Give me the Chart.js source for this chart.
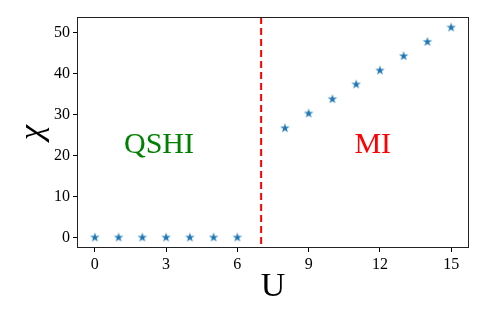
<!DOCTYPE html>
<html>
<head>
<meta charset="utf-8">
<script src="https://cdn.jsdelivr.net/npm/chart.js@4.4.0/dist/chart.umd.min.js"></script>
<style>
  html, body { margin: 0; padding: 0; background: #fff; }
  #wrap { width: 486px; height: 324px; }
</style>
</head>
<body>
<div id="wrap"><canvas id="chiChart"></canvas></div>
<script>
const uValues = [0, 1, 2, 3, 4, 5, 6, 8, 9, 10, 11, 12, 13, 14, 15];
const chiValues = [0, 0, 0, 0, 0, 0, 0, 26.7, 30.3, 33.8, 37.4, 40.8, 44.3, 47.8, 51.3];
const xTicks = [0, 3, 6, 9, 12, 15];
const yTicks = [0, 10, 20, 30, 40, 50];
const transitionU = 7;
const phaseLabels = ['QSHI', 'MI'];
const phaseLabelU = [2.7, 11.7];
const phaseLabelChi = [22.6, 22.6];
const phaseColors = ['#008000', '#ff0000'];

const serif = "'Liberation Serif', 'DejaVu Serif', serif";

// filled 5-point star like matplotlib's '*' marker
function makeStar(r, color) {
    const c = document.createElement('canvas');
    const size = Math.ceil(r * 2 + 2);
    c.width = size; c.height = size;
    const g = c.getContext('2d');
    const cx = size / 2, cy = size / 2;
    g.beginPath();
    for (let i = 0; i < 10; i++) {
        const rad = i % 2 === 0 ? r : r * 0.382;
        const a = -Math.PI / 2 + i * Math.PI / 5;
        const px = cx + rad * Math.cos(a), py = cy + rad * Math.sin(a);
        if (i === 0) g.moveTo(px, py); else g.lineTo(px, py);
    }
    g.closePath();
    g.fillStyle = color;
    g.fill();
    return c;
}
const star = makeStar(5, '#1f77b4');

const overlay = {
    id: 'overlay',
    afterDatasetsDraw(chart) {
        const { ctx, chartArea, scales } = chart;
        const x = scales.x, y = scales.y;
        ctx.save();
        // transition line
        const tx = x.getPixelForValue(transitionU);
        ctx.strokeStyle = '#ff0000';
        ctx.lineWidth = 2;
        ctx.setLineDash([7, 4]);
        ctx.beginPath();
        ctx.moveTo(tx, chartArea.top);
        ctx.lineTo(tx, chartArea.bottom);
        ctx.stroke();
        ctx.setLineDash([]);
        // phase labels
        ctx.font = '30px ' + serif;
        ctx.textAlign = 'center';
        ctx.textBaseline = 'middle';
        phaseLabels.forEach((t, i) => {
            ctx.fillStyle = phaseColors[i];
            ctx.fillText(t, x.getPixelForValue(phaseLabelU[i]), y.getPixelForValue(phaseLabelChi[i]));
        });
        // frame
        ctx.strokeStyle = '#222';
        ctx.lineWidth = 1;
        ctx.strokeRect(chartArea.left + 0.5, chartArea.top + 0.5,
            chartArea.right - chartArea.left - 1, chartArea.bottom - chartArea.top - 1);
        ctx.restore();
    }
};

const points = uValues.map((u, i) => ({ x: u, y: chiValues[i] }));

new Chart(document.getElementById('chiChart').getContext('2d'), {
    type: 'scatter',
    data: {
        datasets: [{
            data: points,
            pointStyle: star,
            backgroundColor: '#1f77b4',
            borderColor: '#1f77b4',
        }]
    },
    options: {
        responsive: true,
        maintainAspectRatio: false,
        animation: false,
        layout: { padding: { top: 17, right: 17, left: 0, bottom: 0 } },
        plugins: { legend: { display: false }, tooltip: { enabled: false } },
        scales: {
            x: {
                type: 'linear',
                min: -0.75,
                max: 15.75,
                afterBuildTicks: s => { s.ticks = xTicks.map(v => ({ value: v })); },
                afterFit: s => { s.height = 76; },
                grid: { drawOnChartArea: false, tickLength: 4, color: '#000' },
                border: { display: false },
                ticks: { color: '#000', font: { family: serif, size: 16 }, padding: 3, maxRotation: 0, autoSkip: false },
                title: { display: true, text: 'U', color: '#000', font: { family: serif, size: 34, lineHeight: 1 }, padding: { top: 0, bottom: 20 } }
            },
            y: {
                type: 'linear',
                min: -2.565,
                max: 53.865,
                afterBuildTicks: s => { s.ticks = yTicks.map(v => ({ value: v })); },
                afterFit: s => { s.width = 77; },
                grid: { drawOnChartArea: false, tickLength: 4, color: '#000' },
                border: { display: false },
                ticks: { color: '#000', font: { family: serif, size: 16 }, padding: 3, autoSkip: false },
                title: { display: true, text: 'χ', color: '#000', font: { family: serif, size: 34, style: 'italic', lineHeight: 1 }, padding: { top: 16, bottom: 0 } }
            }
        }
    },
    plugins: [overlay]
});
</script>
</body>
</html>
